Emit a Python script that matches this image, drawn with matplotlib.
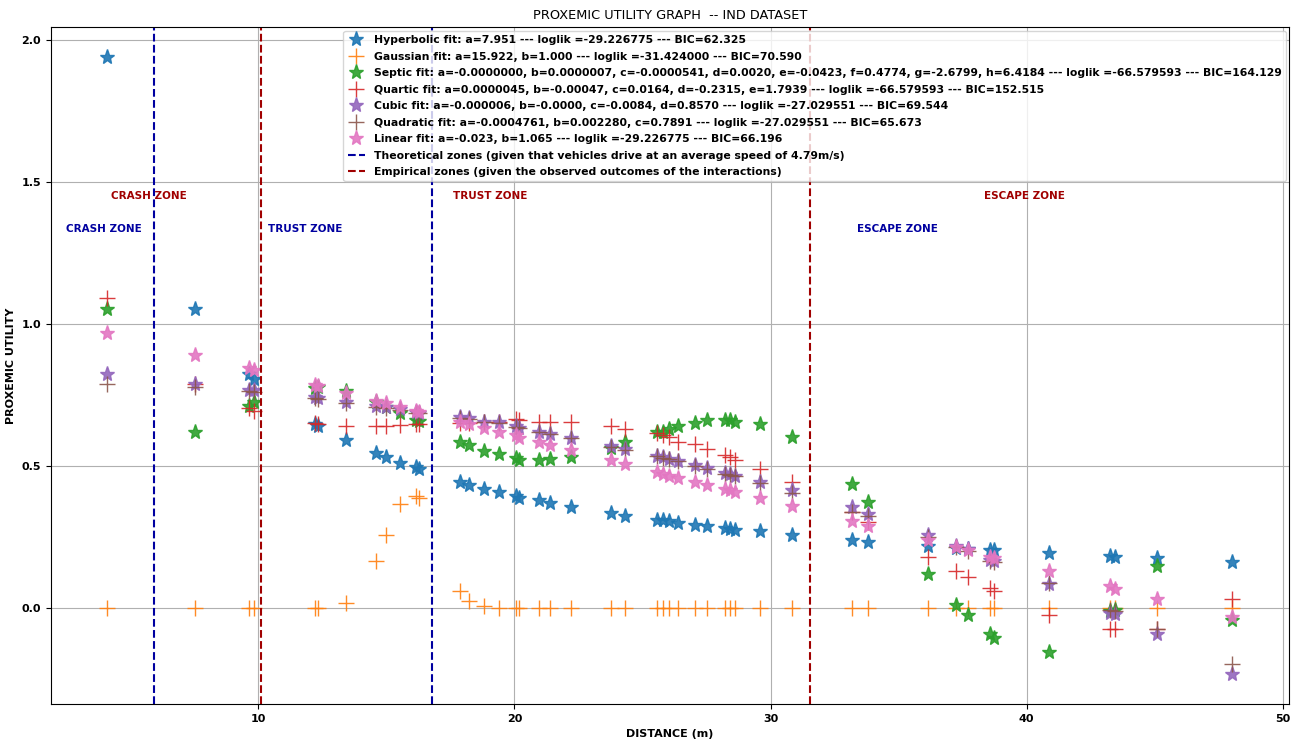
import matplotlib.pyplot as plt

# distances (m) of the observed interactions
distance = [4.1, 7.55, 9.63, 9.83, 12.2, 12.33, 13.44, 14.59, 14.98, 15.53, 16.17, 16.28,
            17.87, 18.22, 18.8, 19.39, 20.05, 20.18, 20.95, 21.38, 22.2, 23.78, 24.33,
            25.55, 25.8, 26.03, 26.38, 27.06, 27.52, 28.23, 28.4, 28.63, 29.57, 30.85,
            33.17, 33.82, 36.16, 37.25, 37.7, 38.55, 38.71, 40.88, 43.27, 43.45, 45.09, 48.01]

hyperbolic = [1.94, 1.053, 0.824, 0.808, 0.650, 0.642, 0.591, 0.546, 0.531, 0.513, 0.496, 0.491,
              0.446, 0.435, 0.421, 0.408, 0.396, 0.389, 0.380, 0.370, 0.356, 0.335, 0.326,
              0.312, 0.309, 0.306, 0.300, 0.292, 0.288, 0.282, 0.279, 0.274, 0.271, 0.259,
              0.241, 0.233, 0.218, 0.213, 0.209, 0.206, 0.204, 0.194, 0.183, 0.182, 0.177, 0.163]
gaussian = [0.0, 0.0, 0.0, 0.0, 0.0, 0.0, 0.019, 0.167, 0.259, 0.368, 0.396, 0.389,
            0.062, 0.027, 0.007, 0.001, 0.0, 0.0, 0.0, 0.0, 0.0, 0.0, 0.0,
            0.0, 0.0, 0.0, 0.0, 0.0, 0.0, 0.0, 0.0, 0.0, 0.0, 0.0,
            0.0, 0.0, 0.0, 0.0, 0.0, 0.0, 0.0, 0.0, 0.0, 0.0, 0.0, 0.0]
septic = [1.054, 0.620, 0.713, 0.726, 0.775, 0.778, 0.766, 0.725, 0.710, 0.687, 0.661, 0.658,
          0.587, 0.573, 0.554, 0.543, 0.529, 0.523, 0.523, 0.526, 0.531, 0.565, 0.587,
          0.620, 0.622, 0.631, 0.640, 0.652, 0.661, 0.663, 0.661, 0.657, 0.649, 0.603,
          0.438, 0.374, 0.121, 0.013, -0.023, -0.089, -0.105, -0.154, -0.011, -0.005, 0.148, -0.040]
quartic = [1.091, 0.790, 0.705, 0.696, 0.652, 0.650, 0.642, 0.642, 0.642, 0.646, 0.647, 0.648,
           0.652, 0.652, 0.655, 0.656, 0.666, 0.661, 0.657, 0.657, 0.654, 0.640, 0.631,
           0.617, 0.611, 0.603, 0.587, 0.578, 0.560, 0.540, 0.532, 0.523, 0.490, 0.446,
           0.339, 0.304, 0.180, 0.130, 0.110, 0.071, 0.059, -0.023, -0.073, -0.073, -0.074, 0.034]
cubic = [0.824, 0.791, 0.769, 0.767, 0.743, 0.741, 0.726, 0.713, 0.710, 0.700, 0.690, 0.688,
         0.675, 0.669, 0.657, 0.654, 0.640, 0.634, 0.620, 0.613, 0.601, 0.570, 0.560,
         0.537, 0.532, 0.525, 0.519, 0.503, 0.493, 0.476, 0.472, 0.466, 0.446, 0.415,
         0.356, 0.332, 0.259, 0.220, 0.209, 0.171, 0.168, 0.087, -0.017, -0.020, -0.089, -0.230]
quadratic = [0.790, 0.778, 0.765, 0.763, 0.740, 0.738, 0.723, 0.710, 0.706, 0.697, 0.688, 0.686,
             0.670, 0.666, 0.655, 0.652, 0.639, 0.636, 0.622, 0.614, 0.600, 0.568, 0.557,
             0.535, 0.530, 0.524, 0.517, 0.502, 0.491, 0.474, 0.470, 0.464, 0.440, 0.405,
             0.339, 0.323, 0.250, 0.215, 0.203, 0.165, 0.162, 0.090, -0.005, -0.010, -0.074, -0.198]
linear = [0.970, 0.891, 0.845, 0.840, 0.786, 0.781, 0.757, 0.728, 0.722, 0.710, 0.696, 0.692,
          0.657, 0.649, 0.634, 0.622, 0.611, 0.600, 0.587, 0.575, 0.558, 0.523, 0.509,
          0.478, 0.473, 0.466, 0.458, 0.446, 0.435, 0.420, 0.415, 0.408, 0.388, 0.361,
          0.306, 0.291, 0.239, 0.216, 0.204, 0.180, 0.177, 0.132, 0.077, 0.069, 0.034, -0.031]

labels = [
    "Hyperbolic fit: a=7.951 --- loglik =-29.226775 --- BIC=62.325",
    "Gaussian fit: a=15.922, b=1.000 --- loglik =-31.424000 --- BIC=70.590",
    "Septic fit: a=-0.0000000, b=0.0000007, c=-0.0000541, d=0.0020, e=-0.0423, f=0.4774, g=-2.6799, h=6.4184 --- loglik =-66.579593 --- BIC=164.129",
    "Quartic fit: a=0.0000045, b=-0.00047, c=0.0164, d=-0.2315, e=1.7939 --- loglik =-66.579593 --- BIC=152.515",
    "Cubic fit: a=-0.000006, b=-0.0000, c=-0.0084, d=0.8570 --- loglik =-27.029551 --- BIC=69.544",
    "Quadratic fit: a=-0.0004761, b=0.002280, c=0.7891 --- loglik =-27.029551 --- BIC=65.673",
    "Linear fit: a=-0.023, b=1.065 --- loglik =-29.226775 --- BIC=66.196",
]

# zone boundaries (m)
theoretical_zones = [5.93, 16.8]
empirical_zones = [10.1, 31.55]

fig = plt.figure(figsize=(13.01, 7.41), dpi=100)
ax = fig.add_axes([0.039, 0.05, 0.952, 0.913])

series = [hyperbolic, gaussian, septic, quartic, cubic, quadratic, linear]
markers = ['*', '+', '*', '+', '*', '+', '*']
for i, values in enumerate(series):
    ax.plot(distance, values, markers[i], color='C%d' % i, markersize=11,
            alpha=0.9, label=labels[i])

# zone lines
for i, z in enumerate(theoretical_zones):
    ax.axvline(z, color='#0000a0', linestyle='--', linewidth=1.5,
               label="Theoretical zones (given that vehicles drive at an average speed of 4.79m/s)" if i == 0 else None)
for i, z in enumerate(empirical_zones):
    ax.axvline(z, color='#a00000', linestyle='--', linewidth=1.5,
               label="Empirical zones (given the observed outcomes of the interactions)" if i == 0 else None)

# zone names
ax.text(3.97, 1.335, "CRASH ZONE", color='#0000a0', fontweight='bold', fontsize=7.5, ha='center', va='center')
ax.text(11.85, 1.335, "TRUST ZONE", color='#0000a0', fontweight='bold', fontsize=7.5, ha='center', va='center')
ax.text(34.95, 1.335, "ESCAPE ZONE", color='#0000a0', fontweight='bold', fontsize=7.5, ha='center', va='center')
ax.text(5.75, 1.45, "CRASH ZONE", color='#a00000', fontweight='bold', fontsize=7.5, ha='center', va='center')
ax.text(19.05, 1.45, "TRUST ZONE", color='#a00000', fontweight='bold', fontsize=7.5, ha='center', va='center')
ax.text(39.9, 1.45, "ESCAPE ZONE", color='#a00000', fontweight='bold', fontsize=7.5, ha='center', va='center')

ax.set_xlim(1.9, 50.25)
ax.set_ylim(-0.337, 2.045)
ax.set_xticks([10, 20, 30, 40, 50])
ax.set_yticks([0.0, 0.5, 1.0, 1.5, 2.0])
for lbl in ax.get_xticklabels() + ax.get_yticklabels():
    lbl.set_fontweight('bold')
    lbl.set_fontsize(8)
ax.grid(True)

ax.set_title("PROXEMIC UTILITY GRAPH  -- IND DATASET", fontsize=9.3)
ax.set_xlabel("DISTANCE (m)", fontweight='bold', fontsize=8)
ax.set_ylabel("PROXEMIC UTILITY", fontweight='bold', fontsize=8)
ax.legend(loc='upper right', numpoints=1, prop={'weight': 'bold', 'size': 7.8},
          labelspacing=0.6, handlelength=1.6, borderaxespad=0.3)

fig.savefig("out.png", dpi=100)
